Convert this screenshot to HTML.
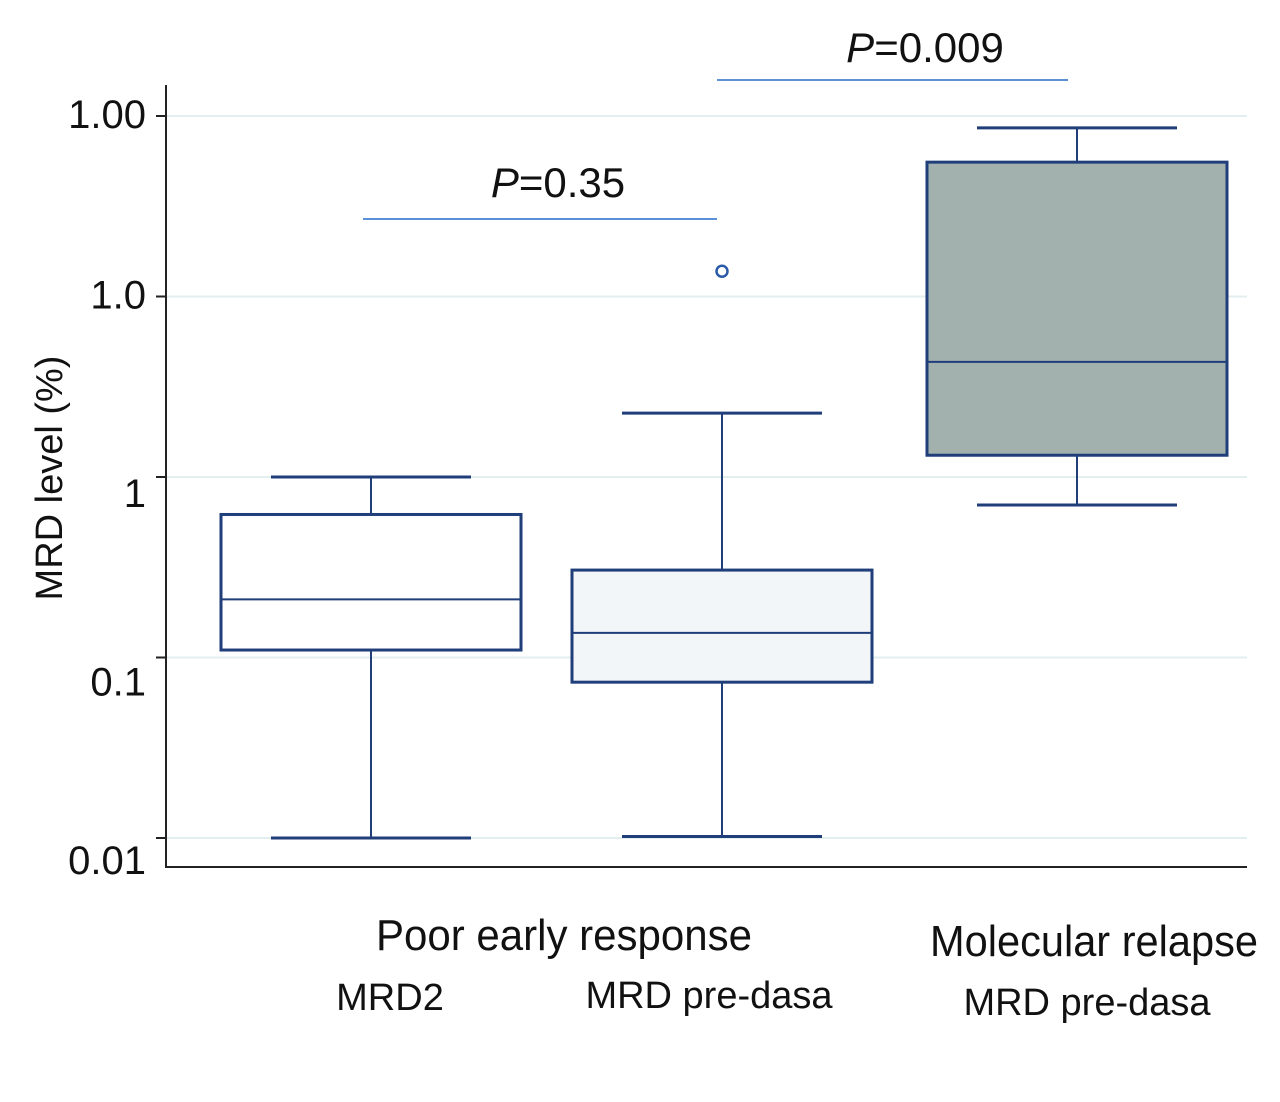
<!DOCTYPE html>
<html><head><meta charset="utf-8"><style>
body{margin:0;background:#fff;}
svg text{font-family:"Liberation Sans Narrow","Liberation Sans",sans-serif;fill:#111;}
</style></head><body>
<svg width="1280" height="1097" viewBox="0 0 1280 1097" id="chart">
<g id="grid"></g><g id="ticks"></g><g id="boxes"></g>
<line x1="166" y1="85" x2="166" y2="868" stroke="#222" stroke-width="2"/>
<line x1="165" y1="867" x2="1247" y2="867" stroke="#222" stroke-width="2"/>
<text transform="translate(62,478) rotate(-90)" text-anchor="middle" font-size="38">MRD level (%)</text>
<line x1="363" y1="219" x2="717" y2="219" stroke="#5b8fd6" stroke-width="2"/>
<text x="558" y="197" text-anchor="middle" font-size="42"><tspan font-style="italic">P</tspan>=0.35</text>
<line x1="717" y1="80" x2="1068" y2="80" stroke="#5b8fd6" stroke-width="2"/>
<text x="925" y="62" text-anchor="middle" font-size="42"><tspan font-style="italic">P</tspan>=0.009</text>
<text x="376" y="950" font-size="44" textLength="376" lengthAdjust="spacingAndGlyphs">Poor early response</text>
<text x="930" y="956" font-size="44" textLength="328" lengthAdjust="spacingAndGlyphs">Molecular relapse</text>
<text x="390" y="1010" text-anchor="middle" font-size="38">MRD2</text>
<text x="709" y="1008" text-anchor="middle" font-size="38">MRD pre-dasa</text>
<text x="1087" y="1015" text-anchor="middle" font-size="38">MRD pre-dasa</text>
</svg>
<script>
const tickValues=[100,10,1,0.1,0.01];
const tickLabels=["1.00","1.0","1","0.1","0.01"];
const boxNames=["mrd2","mrd-pre-dasa-poor","mrd-pre-dasa-relapse"];
const whiskerLow=[0.01,0.0102,0.70];
const q1=[0.11,0.073,1.32];
const medians=[0.21,0.137,4.34];
const q3=[0.62,0.305,55.5];
const whiskerHigh=[1.0,2.26,86];
const outliers=[[],[13.8],[]];
const fills=["#ffffff","#f3f6f8","#a3b1ae"];
const centers=[371,722,1077];
const NS="http://www.w3.org/2000/svg";
function y(v){return 477-180.5*Math.log10(v);}
function mk(tag,attrs,parent){const e=document.createElementNS(NS,tag);for(const k in attrs)e.setAttribute(k,attrs[k]);document.getElementById(parent).appendChild(e);return e;}
const labelOffsets=[12,12,30,38,36];
tickValues.forEach((v,i)=>{
 const g=mk('line',{x1:167,x2:1247,y1:y(v),y2:y(v),stroke:'#e3eeee','stroke-width':2},'grid');
 
 
 const t=mk('line',{x1:156,x2:166,y1:y(v),y2:y(v),stroke:'#222','stroke-width':2},'ticks');
 
 
 const tx=mk('text',{x:146,y:y(v)+labelOffsets[i],'text-anchor':'end','font-size':40},'ticks');
 tx.textContent=tickLabels[i];
 
 
});
const st='#1f3e7a';
boxNames.forEach((n,i)=>{
 const c=centers[i],hw=150,cw=100;
 const w1=mk('line',{x1:c,x2:c,y1:y(whiskerHigh[i]),y2:y(q3[i]),stroke:st,'stroke-width':2},'boxes');
 
 
 const w2=mk('line',{x1:c,x2:c,y1:y(q1[i]),y2:y(whiskerLow[i]),stroke:st,'stroke-width':2},'boxes');
 
 
 [whiskerHigh[i],whiskerLow[i]].forEach(v=>{
  const cap=mk('line',{x1:c-cw,x2:c+cw,y1:y(v),y2:y(v),stroke:st,'stroke-width':3},'boxes');
  
  
 });
 const r=mk('rect',{x:c-hw,y:y(q3[i]),width:2*hw,height:y(q1[i])-y(q3[i]),fill:fills[i],stroke:st,'stroke-width':3},'boxes');
 
 
 const m=mk('line',{x1:c-hw,x2:c+hw,y1:y(medians[i]),y2:y(medians[i]),stroke:st,'stroke-width':2},'boxes');
 
 
 outliers[i].forEach(v=>{
  const o=mk('circle',{cx:c,cy:y(v),r:5.5,fill:'none',stroke:'#2a5aa8','stroke-width':2.5},'boxes');
  
  
 });
});
</script>
</body></html>
